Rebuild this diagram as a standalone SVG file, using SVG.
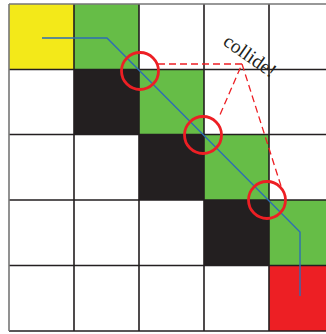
<svg xmlns="http://www.w3.org/2000/svg" width="326" height="334" viewBox="0 0 326 334">
<style>
.y{fill:#f3e919}.g{fill:#66bd47}.k{fill:#231f20}.r{fill:#ed1f24}
.grid{stroke:#231f20;stroke-width:1.6;fill:none}
.path{stroke:#2e6db4;stroke-width:1.4;fill:none}
.ring{stroke:#ed1f24;stroke-width:2.8;fill:none}
.dash{stroke:#ed1f24;stroke-width:1.3;fill:none;stroke-dasharray:7 4}
</style>
<rect width="326" height="334" fill="#fff"/>
<g id="cells">
<rect class="y" x="9" y="4" width="65" height="65.5"/>
<rect class="g" x="74" y="4" width="65" height="65.5"/>
<rect class="k" x="74" y="69.5" width="65" height="65"/>
<rect class="g" x="139" y="69.5" width="65" height="65"/>
<rect class="k" x="139" y="134.5" width="65" height="65.5"/>
<rect class="g" x="204" y="134.5" width="65" height="65.5"/>
<rect class="k" x="204" y="200" width="65" height="65.5"/>
<rect class="g" x="269" y="200" width="57" height="65.5"/>
<rect class="r" x="269" y="265.5" width="57" height="65.5"/>
</g>
<g id="grid">
<path class="grid" d="M74 4V331M139 4V331M204 4V331M269 4V331M9 69.5H326M9 134.5H326M9 200H326M9 265.5H326M9 331H326"/>
<path d="M9 4H326M9 4V331" stroke="#777" stroke-width="1.6" fill="none"/>
</g>
<g id="connectors">
<polyline class="path" points="42,38 107,38 300,232 300,296"/>
<polyline class="dash" points="158,64 242,64 219,117"/>
<line class="dash" x1="242" y1="64" x2="281" y2="186"/>
</g>
<g id="collisions">
<circle class="ring" cx="140" cy="71" r="18.5"/>
<circle class="ring" cx="203" cy="135" r="18.5"/>
<circle class="ring" cx="267" cy="200" r="18.5"/>
</g>
<text x="0" y="0" transform="translate(222,44) rotate(35)" font-family="Liberation Serif, serif" font-size="19.5" fill="#231f20">collide!</text>
</svg>
